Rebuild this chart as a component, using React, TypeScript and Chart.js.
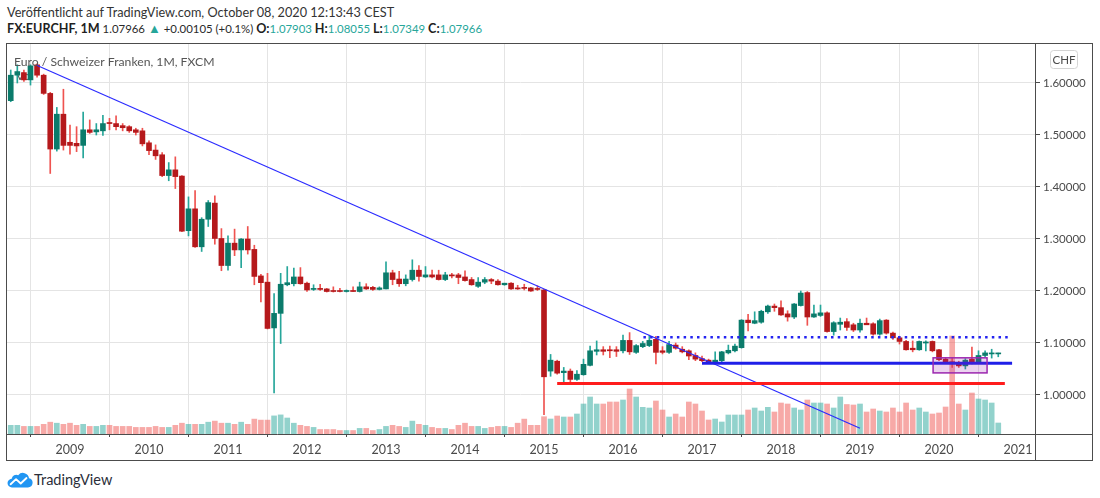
import React, { useEffect, useRef } from "react";
import { Chart, registerables } from "chart.js";

Chart.register(...registerables);

// ---- data (monthly EUR/CHF, FXCM) ----
const firstMonth = "2008-04";

const opens = [
  1.566, 1.615, 1.620, 1.606, 1.635, 1.615, 1.580, 1.473, 1.540,
  1.486, 1.484, 1.480, 1.510, 1.506, 1.508, 1.524, 1.522, 1.518, 1.516, 1.510, 1.508,
  1.485, 1.471, 1.462, 1.422, 1.433, 1.421, 1.316, 1.358, 1.285, 1.338, 1.369, 1.301,
  1.249, 1.292, 1.279, 1.300, 1.280, 1.229, 1.217, 1.129, 1.157, 1.212, 1.214, 1.227,
  1.215, 1.203, 1.205, 1.204, 1.200, 1.2005, 1.199, 1.201, 1.199, 1.208, 1.207, 1.203,
  1.204, 1.235, 1.223, 1.214, 1.222, 1.240, 1.227, 1.231, 1.231, 1.222, 1.231, 1.231,
  1.227, 1.222, 1.209, 1.217, 1.222, 1.219, 1.212, 1.215, 1.206, 1.206, 1.206, 1.204,
  1.202, 1.046, 1.065, 1.043, 1.046, 1.030, 1.039, 1.057, 1.084, 1.087, 1.087, 1.087,
  1.085, 1.105, 1.082, 1.093, 1.095, 1.107, 1.085, 1.082, 1.096, 1.088, 1.085, 1.076,
  1.070, 1.067, 1.062, 1.066, 1.081, 1.085, 1.091, 1.144, 1.138, 1.140, 1.160, 1.171,
  1.168, 1.156, 1.150, 1.172, 1.197, 1.150, 1.153, 1.158, 1.122, 1.136, 1.141, 1.135,
  1.125, 1.138, 1.137, 1.117, 1.144, 1.119, 1.110, 1.103, 1.090, 1.087, 1.100, 1.103,
  1.087, 1.069, 1.063, 1.062, 1.056, 1.069, 1.063, 1.076, 1.079, 1.07903,
];
const highs = [
  1.625, 1.635, 1.625, 1.635, 1.637, 1.617, 1.582, 1.553, 1.588,
  1.519, 1.516, 1.544, 1.529, 1.522, 1.538, 1.532, 1.537, 1.522, 1.518, 1.513, 1.513,
  1.489, 1.481, 1.466, 1.447, 1.458, 1.422, 1.381, 1.393, 1.341, 1.374, 1.383, 1.320,
  1.306, 1.319, 1.301, 1.324, 1.288, 1.232, 1.234, 1.195, 1.234, 1.247, 1.244, 1.245,
  1.217, 1.212, 1.213, 1.205, 1.208, 1.205, 1.202, 1.208, 1.217, 1.214, 1.209, 1.208,
  1.256, 1.240, 1.238, 1.231, 1.260, 1.249, 1.247, 1.240, 1.240, 1.236, 1.234, 1.234,
  1.239, 1.226, 1.226, 1.226, 1.224, 1.222, 1.215, 1.216, 1.211, 1.213, 1.207, 1.210,
  1.203, 1.078, 1.067, 1.053, 1.050, 1.047, 1.069, 1.094, 1.104, 1.093, 1.094, 1.093,
  1.115, 1.120, 1.097, 1.103, 1.115, 1.113, 1.093, 1.103, 1.100, 1.093, 1.087, 1.081,
  1.075, 1.069, 1.083, 1.084, 1.096, 1.098, 1.145, 1.155, 1.160, 1.163, 1.173, 1.175,
  1.181, 1.162, 1.176, 1.200, 1.199, 1.173, 1.173, 1.160, 1.141, 1.148, 1.147, 1.138,
  1.146, 1.148, 1.139, 1.146, 1.145, 1.121, 1.113, 1.105, 1.104, 1.104, 1.104, 1.104,
  1.088, 1.072, 1.072, 1.065, 1.070, 1.092, 1.085, 1.085, 1.088, 1.08055,
];
const lows = [
  1.564, 1.600, 1.603, 1.596, 1.611, 1.578, 1.426, 1.469, 1.471,
  1.463, 1.468, 1.456, 1.503, 1.500, 1.499, 1.510, 1.510, 1.508, 1.505, 1.500, 1.479,
  1.462, 1.453, 1.420, 1.412, 1.397, 1.314, 1.306, 1.284, 1.276, 1.324, 1.290, 1.239,
  1.240, 1.268, 1.245, 1.271, 1.212, 1.179, 1.127, 1.004, 1.099, 1.210, 1.210, 1.213,
  1.199, 1.201, 1.201, 1.198, 1.198, 1.198, 1.198, 1.199, 1.198, 1.203, 1.201, 1.202,
  1.204, 1.212, 1.209, 1.210, 1.219, 1.219, 1.226, 1.225, 1.221, 1.220, 1.225, 1.214,
  1.219, 1.211, 1.207, 1.214, 1.214, 1.211, 1.211, 1.203, 1.203, 1.202, 1.199, 1.201,
  0.962, 1.036, 1.040, 1.022, 1.025, 1.028, 1.038, 1.056, 1.077, 1.077, 1.072, 1.074,
  1.081, 1.078, 1.080, 1.091, 1.093, 1.060, 1.079, 1.080, 1.088, 1.081, 1.068, 1.066,
  1.064, 1.061, 1.060, 1.064, 1.079, 1.083, 1.090, 1.123, 1.137, 1.138, 1.157, 1.161,
  1.153, 1.142, 1.147, 1.171, 1.134, 1.149, 1.151, 1.121, 1.115, 1.125, 1.124, 1.122,
  1.121, 1.136, 1.115, 1.115, 1.117, 1.107, 1.098, 1.086, 1.083, 1.086, 1.085, 1.083,
  1.066, 1.061, 1.053, 1.053, 1.050, 1.060, 1.061, 1.073, 1.071, 1.07349,
];
const closes = [
  1.615, 1.622, 1.606, 1.633, 1.615, 1.580, 1.473, 1.540, 1.480,
  1.480, 1.479, 1.510, 1.505, 1.510, 1.522, 1.522, 1.516, 1.514, 1.508, 1.505, 1.483,
  1.470, 1.460, 1.422, 1.433, 1.420, 1.315, 1.358, 1.285, 1.338, 1.370, 1.301, 1.249,
  1.292, 1.279, 1.300, 1.279, 1.228, 1.216, 1.128, 1.157, 1.213, 1.216, 1.227, 1.214,
  1.202, 1.205, 1.203, 1.199, 1.199, 1.199, 1.201, 1.199, 1.208, 1.204, 1.203, 1.206,
  1.235, 1.222, 1.214, 1.223, 1.240, 1.228, 1.231, 1.227, 1.222, 1.231, 1.229, 1.226,
  1.220, 1.212, 1.217, 1.222, 1.219, 1.212, 1.215, 1.204, 1.204, 1.205, 1.200, 1.203,
  1.035, 1.067, 1.042, 1.046, 1.030, 1.040, 1.059, 1.085, 1.087, 1.084, 1.085, 1.084,
  1.105, 1.083, 1.095, 1.099, 1.105, 1.082, 1.082, 1.097, 1.090, 1.083, 1.075, 1.069,
  1.066, 1.062, 1.067, 1.083, 1.086, 1.094, 1.144, 1.139, 1.143, 1.161, 1.171, 1.168,
  1.154, 1.150, 1.175, 1.196, 1.150, 1.156, 1.158, 1.122, 1.139, 1.140, 1.130, 1.125,
  1.138, 1.135, 1.117, 1.143, 1.119, 1.110, 1.103, 1.087, 1.087, 1.103, 1.102, 1.085,
  1.068, 1.063, 1.062, 1.056, 1.067, 1.063, 1.076, 1.081, 1.080, 1.07966,
];
// volume (relative units)
const volumes = [
  8.7, 8.7, 7.6, 7.6, 7.6, 9.7, 11.8, 10.8, 9.7,
  10.8, 8.7, 9.7, 7.6, 7.6, 8.7, 8.7, 7.6, 7.6, 7.6, 6.6, 6.6,
  6.6, 7.6, 6.6, 6.6, 8.7, 10.8, 9.7, 9.7, 9.7, 11.8, 12.9, 10.8,
  10.8, 9.7, 11.8, 9.7, 14.9, 13.9, 13.9, 18.1, 19.1, 16.0, 10.8, 8.7,
  7.6, 6.6, 4.5, 4.5, 4.5, 3.5, 3.5, 3.5, 5.6, 5.6, 3.5, 4.5,
  7.6, 8.7, 7.6, 6.6, 12.9, 9.7, 8.7, 6.6, 5.6, 5.6, 4.5, 8.7,
  10.8, 7.6, 7.6, 5.6, 6.6, 7.6, 7.6, 6.6, 10.8, 14.9, 8.7, 8.7,
  17.3, 15, 18, 17, 17, 20, 30, 37, 30, 30, 32, 32,
  34, 45, 37, 26.7, 26, 33, 24, 17, 20, 17, 32, 30,
  23, 14, 15, 12, 19, 19, 19, 24, 26, 23, 26.7, 22,
  31, 30, 26, 24, 34, 31, 31, 30, 26, 37, 29.5, 29,
  30, 22, 25, 23, 22, 26, 22, 31, 24, 26, 22, 20,
  21, 27, 98, 30, 24, 41, 35, 34, 31, 11,
];

const yearTicks = [2009, 2010, 2011, 2012, 2013, 2014, 2015, 2016, 2017, 2018, 2019, 2020, 2021];
const priceTicks = [1.0, 1.1, 1.2, 1.3, 1.4, 1.5, 1.6];

// drawings: [start month index, end month index, price]
const trendLine = [
  { x: 3.94, y: 1.634 },
  { x: 129.0, y: 0.936 },
];
const redSupport = [83.0, 151.0, 1.022];
const blueSupport = [105.0, 152.1, 1.061];
const dottedResistance = [96.1, 152.0, 1.111];
const consolidationBox = { x0: 140.1, x1: 148.3, y0: 1.0425, y1: 1.0715 };

// ---- styles ----
const UP_BODY = "#0b7b6b";
const DOWN_BODY = "#b5191c";
const UP_WICK = "#26a69a";
const DOWN_WICK = "#ef5350";
const UP_VOL = "rgba(38,166,154,0.5)";
const DOWN_VOL = "rgba(239,83,80,0.5)";
const FRAME = "#4c4c4c";
const GRID = "#e4e4e4";
const TEXT = "#4a4a4a";
const FONT = "Lato";

const [fy, fm] = firstMonth.split("-").map(Number);
const monthIndexOfYear = (y: number) => (y - fy) * 12 + (1 - fm);

const overlayPlugin = {
  id: "tvOverlay",
  beforeDatasetsDraw(chart: any) {
    const { ctx } = chart;
    ctx.save();
    ctx.font = `12px ${FONT}`;
    ctx.fillStyle = "#555";
    ctx.textBaseline = "alphabetic";
    ctx.fillText("Vol", 10, 37);
    ctx.restore();
  },
  afterDatasetsDraw(chart: any) {
    const { ctx, scales } = chart;
    const x = scales.x;
    const y = scales.y;
    const px0 = x.getPixelForValue(consolidationBox.x0);
    const px1 = x.getPixelForValue(consolidationBox.x1);
    const py0 = y.getPixelForValue(consolidationBox.y1);
    const py1 = y.getPixelForValue(consolidationBox.y0);
    ctx.save();
    ctx.fillStyle = "rgba(156,39,176,0.2)";
    ctx.fillRect(px0, py0, px1 - px0, py1 - py0);
    ctx.strokeStyle = "#9c27b0";
    ctx.lineWidth = 1.5;
    ctx.strokeRect(px0, py0, px1 - px0, py1 - py0);
    ctx.font = `12.2px ${FONT}`;
    ctx.fillStyle = "#555";
    ctx.textBaseline = "alphabetic";
    ctx.fillText("Euro / Schweizer Franken, 1M, FXCM", 8, 23);
    ctx.restore();
  },
  afterDraw(chart: any) {
    const { ctx, chartArea, width, height } = chart;
    ctx.save();
    ctx.strokeStyle = FRAME;
    ctx.lineWidth = 1;
    ctx.strokeRect(0.5, 0.5, width - 1, height - 1);
    ctx.beginPath();
    ctx.moveTo(Math.round(chartArea.right) + 0.5, 0);
    ctx.lineTo(Math.round(chartArea.right) + 0.5, height);
    ctx.moveTo(0, Math.round(chartArea.bottom) + 0.5);
    ctx.lineTo(width, Math.round(chartArea.bottom) + 0.5);
    ctx.stroke();
    const bx = 1044, by = 7, bw = 27, bh = 18;
    ctx.beginPath();
    ctx.roundRect(bx + 0.5, by + 0.5, bw, bh, 3);
    ctx.fillStyle = "#fff";
    ctx.fill();
    ctx.strokeStyle = "#d4d4d4";
    ctx.stroke();
    ctx.font = `11.5px ${FONT}`;
    ctx.fillStyle = TEXT;
    ctx.textAlign = "center";
    ctx.textBaseline = "middle";
    ctx.fillText("CHF", bx + bw / 2 + 0.5, by + bh / 2 + 1);
    ctx.restore();
  },
};

const hLine = (seg: number[], color: string, width: number, dash: number[] = []) => ({
  type: "line" as const,
  data: [
    { x: seg[0], y: seg[2] },
    { x: seg[1], y: seg[2] },
  ],
  borderColor: color,
  borderWidth: width,
  borderDash: dash,
  borderCapStyle: "butt" as const,
  pointRadius: 0,
  yAxisID: "y",
  order: 1,
});

export default function App() {
  const ref = useRef<HTMLCanvasElement | null>(null);

  useEffect(() => {
    if (!ref.current) return;
    const up = closes.map((c, i) => c >= opens[i]);
    const idx = opens.map((_, i) => i);
    const chart = new Chart(ref.current, {
      type: "bar",
      data: {
        datasets: [
          {
            type: "bar",
            label: "Volume",
            data: idx.map((i) => ({ x: i, y: volumes[i] })) as any,
            backgroundColor: up.map((u) => (u ? UP_VOL : DOWN_VOL)),
            barThickness: 5,
            grouped: false,
            yAxisID: "yVol",
            order: 5,
          },
          {
            type: "bar",
            label: "Wick",
            data: idx.map((i) => ({ x: i, y: [lows[i], highs[i]] })) as any,
            backgroundColor: up.map((u) => (u ? UP_WICK : DOWN_WICK)),
            barThickness: 1,
            grouped: false,
            yAxisID: "y",
            order: 4,
          },
          {
            type: "bar",
            label: "Body",
            data: idx.map((i) => ({ x: i, y: [opens[i], closes[i]] })) as any,
            backgroundColor: up.map((u) => (u ? UP_BODY : DOWN_BODY)),
            barThickness: 5,
            minBarLength: 1,
            grouped: false,
            yAxisID: "y",
            order: 3,
          },
          {
            type: "line",
            data: trendLine as any,
            borderColor: "#2b2bff",
            borderWidth: 1.2,
            pointRadius: 0,
            yAxisID: "y",
            order: 2,
          } as any,
          hLine(redSupport, "#ff1c1c", 3) as any,
          hLine(blueSupport, "#1f1fe8", 3) as any,
          hLine(dottedResistance, "#2424f0", 2.5, [2.5, 4.2]) as any,
        ],
      },
      options: {
        animation: false,
        responsive: true,
        maintainAspectRatio: false,
        layout: { padding: 0, autoPadding: false },
        plugins: {
          legend: { display: false },
          tooltip: { enabled: false },
        },
        scales: {
          x: {
            type: "linear",
            min: -0.72,
            max: 155.58,
            offset: false,
            afterBuildTicks: (scale: any) => {
              scale.ticks = yearTicks.map((yr) => ({ value: monthIndexOfYear(yr) }));
            },
            afterFit: (scale: any) => {
              scale.height = 27;
              scale.paddingLeft = 0;
              scale.paddingRight = 0;
            },
            ticks: {
              autoSkip: false,
              maxRotation: 0,
              padding: 5,
              color: TEXT,
              font: { family: FONT, size: 12.5 },
              callback: (_v: any, i: number) => String(yearTicks[i]),
            },
            grid: { color: GRID, tickLength: 3, tickColor: FRAME, lineWidth: 1 },
            border: { display: false },
          },
          y: {
            type: "linear",
            position: "right",
            min: 0.925,
            max: 1.67692,
            afterBuildTicks: (scale: any) => {
              scale.ticks = priceTicks.map((v) => ({ value: v }));
            },
            afterFit: (scale: any) => {
              scale.width = 58;
              scale.paddingTop = 0;
              scale.paddingBottom = 0;
            },
            ticks: {
              padding: 3,
              color: TEXT,
              font: { family: FONT, size: 11.5 },
              callback: (v: any) => Number(v).toFixed(5),
            },
            grid: { color: GRID, tickLength: 5, tickColor: FRAME },
            border: { display: false },
          },
          yVol: {
            type: "linear",
            display: false,
            min: 0,
            max: 391,
          },
        },
      } as any,
      plugins: [overlayPlugin],
    });
    return () => chart.destroy();
  }, []);

  const teal = { color: "#26a69a" };
  const bold = { fontWeight: 700, color: "#1f1f1f", fontSize: 12.6 };

  return (
    <div
      style={{
        position: "absolute",
        left: 0,
        top: 0,
        width: 1100,
        height: 498,
        background: "#fff",
        fontFamily: FONT,
        overflow: "hidden",
      }}
    >
      <div
        style={{
          position: "absolute",
          left: 7,
          top: 6,
          fontSize: 12.7,
          lineHeight: "13px",
          color: "#333",
          whiteSpace: "nowrap",
        }}
      >
        Veröffentlicht auf TradingView.com, October 08, 2020 12:13:43 CEST
      </div>
      <div
        style={{
          position: "absolute",
          left: 7,
          top: 22,
          fontSize: 11.4,
          lineHeight: "13px",
          color: "#2a2a2a",
          whiteSpace: "nowrap",
        }}
      >
        <span style={bold}>FX:EURCHF, 1M</span> 1.07966{" "}
        <span style={{ ...teal, fontSize: 13 }}>▲</span> +0.00105 (+0.1%){" "}
        <span style={bold}>O:</span>
        <span style={teal}>1.07903</span> <span style={bold}>H:</span>
        <span style={teal}>1.08055</span> <span style={bold}>L:</span>
        <span style={teal}>1.07349</span> <span style={bold}>C:</span>
        <span style={teal}>1.07966</span>
      </div>
      <div style={{ position: "absolute", left: 6, top: 43, width: 1087, height: 418 }}>
        <canvas ref={ref} />
      </div>
      <svg
        style={{ position: "absolute", left: 7, top: 471 }}
        width="26"
        height="17"
        viewBox="0 0 36 23"
      >
        <path
          d="M7 22.5 H29 A6.5 6.5 0 0 0 30.5 9.7 A8.5 8.5 0 0 0 15.5 5.5 A6.5 6.5 0 0 0 6.5 10.5 A6 6 0 0 0 7 22.5 Z"
          fill="#2196f3"
        />
        <polyline
          points="5,18 12.5,11 19,17 27,9.5"
          fill="none"
          stroke="#fff"
          strokeWidth="2.6"
          strokeLinejoin="round"
          strokeLinecap="round"
        />
      </svg>
      <div
        style={{
          position: "absolute",
          left: 34,
          top: 471,
          fontSize: 14.5,
          lineHeight: "17px",
          color: "#2a2e39",
          whiteSpace: "nowrap",
        }}
      >
        TradingView
      </div>
    </div>
  );
}
